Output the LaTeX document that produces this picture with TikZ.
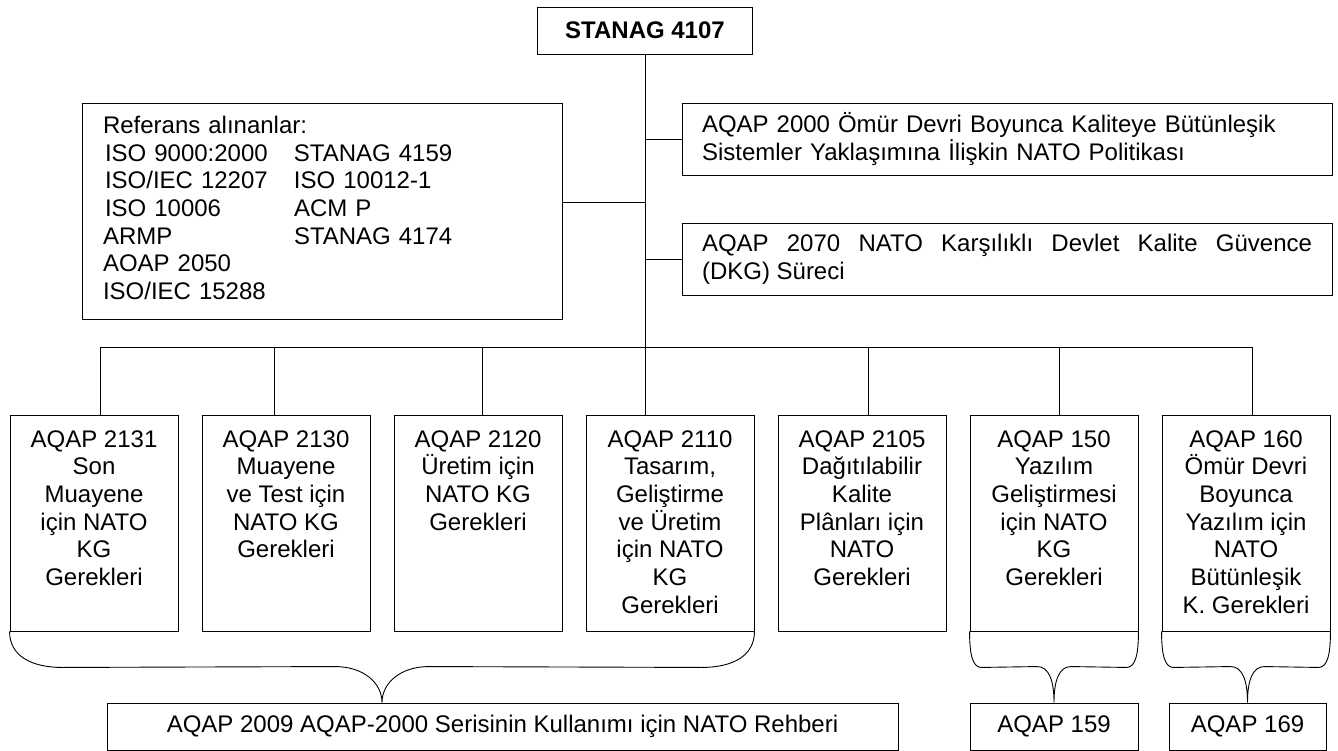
\documentclass[tikz,border=0pt]{standalone}
\usepackage{fontspec}
\setmainfont{Liberation Sans}
\usetikzlibrary{calc,positioning}
\newcommand{\bigfont}{\fontsize{24}{27.7}\selectfont}
\newcommand{\colbox}[1]{\parbox[c][216pt][t]{164pt}{\centering\rule{0pt}{32pt}#1}}
\tikzset{
  box/.style={draw, line width=0.9pt, inner sep=0pt},
  link/.style={line width=0.9pt},
}

\begin{document}
\begin{tikzpicture}[x=1pt, y=-1pt, font=\bigfont]
\useasboundingbox (0,0) rectangle (1338,751);

% Top standard
\node[box, minimum width=215, minimum height=47, font=\bigfont\bfseries] (stanag) at (645,30.5) {STANAG 4107};

% Referenced documents
\node[box, minimum width=480, minimum height=216, text width=438, align=left] (ref) at (322,211) {%
\begin{tabular}{@{}p{191pt}@{}l@{}}
\multicolumn{2}{@{}l}{Referans alınanlar:}\\
\hspace{2pt}ISO 9000:2000 & STANAG 4159\\
\hspace{2pt}ISO/IEC 12207 & ISO 10012-1\\
\hspace{2pt}ISO 10006 & ACM P\\
ARMP & STANAG 4174\\
AOAP 2050 & \\
ISO/IEC 15288 &
\end{tabular}};

% Policy boxes on the right
\node[box, minimum width=650, minimum height=72, text width=610, align=left] (pol) at (1007,139)
  {AQAP 2000 Ömür Devri Boyunca Kaliteye Bütünleşik\\Sistemler Yaklaşımına İlişkin NATO Politikası};
\node[box, minimum width=650, minimum height=72, text width=610, align=justify] (dkg) at (1007,259)
  {AQAP 2070 NATO Karşılıklı Devlet Kalite Güvence\linebreak (DKG) Süreci};

% Requirement columns
\coordinate (bus) at (645,347);
\foreach \i/\dx/\txt in {1/6/{AQAP 2131\\Son\\Muayene\\için NATO\\KG\\Gerekleri},
    2/-12/{AQAP 2130\\Muayene\\ve Test için\\NATO KG\\Gerekleri},
    3/4/{AQAP 2120\\Üretim için\\NATO KG\\Gerekleri},
    4/-25/{AQAP 2110\\Tasarım,\\Geliştirme\\ve Üretim\\için NATO\\KG\\Gerekleri},
    5/6/{AQAP 2105\\Dağıtılabilir\\Kalite\\Plânları için\\NATO\\Gerekleri},
    6/5/{AQAP 150\\Yazılım\\Geliştirmesi\\için NATO\\KG\\Gerekleri},
    7/6/{AQAP 160\\Ömür Devri\\Boyunca\\Yazılım için\\NATO\\Bütünleşik\\K. Gerekleri}} {
  \node[box, minimum width=168] (b\i) at ({94+192*(\i-1)},523) {\colbox{\txt}};
  \coordinate (d\i) at ($(b\i.north)+(\dx,0)$);
  \draw[link] (d\i) -- (d\i |- bus);
}

% Guides at the bottom
\node[box, minimum width=791, minimum height=47] (rehber) at (502.5,726.5)
  {AQAP 2009 AQAP-2000 Serisinin Kullanımı için NATO Rehberi};
\node[box, minimum width=168, minimum height=47] (s159) at (1054,726.5) {AQAP 159};
\node[box, minimum width=157, minimum height=47] (s169) at (1247.5,726.5) {AQAP 169};

% Tree lines
\draw[link] (stanag.south) -- (d4);
\draw[link] (d1 |- bus) -- (d7 |- bus);
\coordinate (refc) at ($(ref.east)+(0,-9)$);
\draw[link] (refc) -- (refc -| stanag.south);
\draw[link] (pol.west) -- (pol.west -| stanag.south);
\draw[link] (dkg.west) -- (dkg.west -| stanag.south);

% Braces
\coordinate (mid) at ($(b1.south west)!.5!(b4.south east)$);
\coordinate (tip) at (mid |- rehber.north);
\draw[link] (b1.south west) .. controls +(0,24) and +(-32,0) .. ($(b1.south west)+(53,36)$)
  -- ($(tip)+(-47,-36)$) .. controls +(28,0) and +(0,-20) .. (tip)
  .. controls +(0,-20) and +(-28,0) .. ($(tip)+(47,-36)$)
  -- ($(b4.south east)+(-53,36)$) .. controls +(32,0) and +(0,24) .. (b4.south east);
\draw[link] (b6.south west) .. controls +(0,26) and +(-8,0) .. ($(b6.south west)+(12,36)$)
  -- ($(s159.north)+(-17,-36)$) .. controls +(12,0) and +(0,-22) .. (s159.north)
  .. controls +(0,-22) and +(-12,0) .. ($(s159.north)+(17,-36)$)
  -- ($(b6.south east)+(-12,36)$) .. controls +(8,0) and +(0,26) .. (b6.south east);
\draw[link] (b7.south west) .. controls +(0,26) and +(-8,0) .. ($(b7.south west)+(12,36)$)
  -- ($(s169.north)+(-17,-36)$) .. controls +(12,0) and +(0,-22) .. (s169.north)
  .. controls +(0,-22) and +(-12,0) .. ($(s169.north)+(17,-36)$)
  -- ($(b7.south east)+(-12,36)$) .. controls +(8,0) and +(0,26) .. (b7.south east);
\end{tikzpicture}
\end{document}
